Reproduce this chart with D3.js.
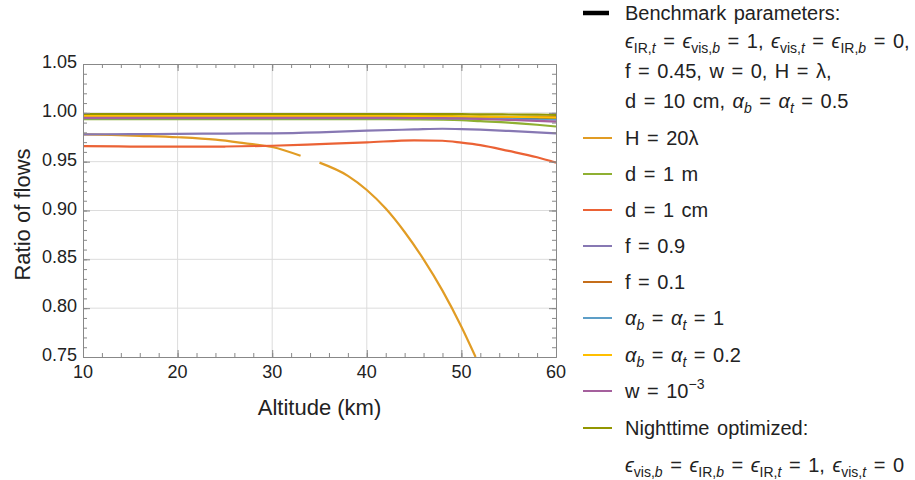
<!DOCTYPE html>
<html>
<head>
<meta charset="utf-8">
<script src="https://cdn.jsdelivr.net/npm/d3@7"></script>
<style>
  body { margin: 0; background: #fff; }
  text { font-family: "Liberation Sans", Arial, sans-serif; fill: #222; }
</style>
</head>
<body>
<div id="chart"></div>
<script>
// altitude grid (km) shared by most curves
var altGrid = [10, 15, 20, 25, 30, 35, 40, 45, 48, 50, 52, 55, 58, 60];

var benchmark  = [0.995, 0.995, 0.995, 0.995, 0.995, 0.995, 0.995, 0.995, 0.995, 0.995, 0.9948, 0.9945, 0.9942, 0.994];
var dOneM      = [0.9935, 0.9935, 0.9935, 0.9935, 0.9935, 0.9935, 0.9935, 0.9933, 0.993, 0.9925, 0.9915, 0.990, 0.9878, 0.986];
var dOneCm     = [0.966, 0.9655, 0.9653, 0.9655, 0.9663, 0.968, 0.9698, 0.9718, 0.9714, 0.9695, 0.967, 0.961, 0.9545, 0.949];
var fNine      = [0.978, 0.9782, 0.9785, 0.9788, 0.979, 0.980, 0.9817, 0.983, 0.9837, 0.9834, 0.9828, 0.9815, 0.980, 0.979];
var fOne       = [0.9952, 0.9952, 0.9952, 0.9952, 0.9952, 0.9952, 0.9953, 0.9953, 0.9954, 0.9955, 0.9956, 0.9957, 0.9958, 0.9958];
var alphaOne   = [0.9945, 0.9945, 0.9945, 0.9945, 0.9945, 0.9945, 0.9945, 0.9945, 0.9944, 0.9942, 0.994, 0.9937, 0.9933, 0.993];
var alphaTwo   = [0.9967, 0.9967, 0.9967, 0.9967, 0.9967, 0.9967, 0.9967, 0.9967, 0.9966, 0.9965, 0.9963, 0.996, 0.9955, 0.995];
var wMinus3    = [0.9948, 0.9948, 0.9948, 0.9948, 0.9948, 0.9948, 0.9948, 0.9947, 0.9945, 0.9942, 0.9937, 0.9928, 0.9918, 0.991];
var nightOpt   = [0.9988, 0.9988, 0.9988, 0.9988, 0.9988, 0.9988, 0.9988, 0.9988, 0.9987, 0.9986, 0.9985, 0.9983, 0.9981, 0.998];

// H = 20 lambda has its own grid, with a gap near 34 km
var hAlt   = [10, 13, 16, 20, 24, 27, 30, 33, 34, 35, 38, 40, 42, 44, 46, 48, 50, 51.5];
var hRatio = [0.978, 0.9775, 0.9765, 0.975, 0.9725, 0.969, 0.965, 0.956, null, 0.949, 0.9355, 0.921, 0.902, 0.878, 0.850, 0.818, 0.781, 0.75];

var xTicks = [10, 20, 30, 40, 50, 60];
var yTicks = [0.75, 0.80, 0.85, 0.90, 0.95, 1.00, 1.05];

var width = 915;
var height = 480;
var plot = { left: 83, right: 556, top: 64, bottom: 357 };

var x = d3.scaleLinear().domain([10, 60]).range([plot.left, plot.right]);
var y = d3.scaleLinear().domain([0.75, 1.05]).range([plot.bottom, plot.top]);

var svg = d3.select('#chart')
            .append('svg')
            .attr('width', width)
            .attr('height', height)
            .style('display', 'block')
            .style('background', '#fff');

svg.append('defs').append('clipPath')
   .attr('id', 'clip')
   .append('rect')
     .attr('x', plot.left)
     .attr('y', plot.top)
     .attr('width', plot.right - plot.left)
     .attr('height', plot.bottom - plot.top);

// grid lines at the major ticks
svg.append('g')
   .selectAll('line')
   .data(xTicks.slice(1, -1))
   .enter()
   .append('line')
     .attr('x1', function (d) { return x(d); })
     .attr('x2', function (d) { return x(d); })
     .attr('y1', plot.top)
     .attr('y2', plot.bottom)
     .attr('stroke', '#dcdcdc')
     .attr('stroke-width', 1);

svg.append('g')
   .selectAll('line')
   .data(yTicks.slice(1, -1))
   .enter()
   .append('line')
     .attr('y1', function (d) { return y(d); })
     .attr('y2', function (d) { return y(d); })
     .attr('x1', plot.left)
     .attr('x2', plot.right)
     .attr('stroke', '#dcdcdc')
     .attr('stroke-width', 1);

// series, in the order they are drawn (later on top)
var series = [
  { label: 'bench',  alt: altGrid, val: benchmark, color: '#000000' },
  { label: 'H',      alt: hAlt,    val: hRatio,    color: '#E19C24' },
  { label: 'd1m',    alt: altGrid, val: dOneM,     color: '#8FB032' },
  { label: 'd1cm',   alt: altGrid, val: dOneCm,    color: '#EB6235' },
  { label: 'f09',    alt: altGrid, val: fNine,     color: '#8778B3' },
  { label: 'f01',    alt: altGrid, val: fOne,      color: '#C56E1A' },
  { label: 'a1',     alt: altGrid, val: alphaOne,  color: '#5D9EC7' },
  { label: 'a02',    alt: altGrid, val: alphaTwo,  color: '#FFBF00' },
  { label: 'w',      alt: altGrid, val: wMinus3,   color: '#A5609D' },
  { label: 'night',  alt: altGrid, val: nightOpt,  color: '#929600' }
];

var line = d3.line()
             .defined(function (d) { return d[1] != null; })
             .x(function (d) { return x(d[0]); })
             .y(function (d) { return y(d[1]); })
             .curve(d3.curveMonotoneX);

svg.append('g')
   .attr('clip-path', 'url(#clip)')
   .selectAll('path')
   .data(series)
   .enter()
   .append('path')
     .attr('d', function (s) {
       return line(s.alt.map(function (a, i) { return [a, s.val[i]]; }));
     })
     .attr('fill', 'none')
     .attr('stroke', function (s) { return s.color; })
     .attr('stroke-width', 2.2)
     .attr('stroke-linejoin', 'round');

// frame with ticks on all four sides, pointing inwards
var frameColor = '#888';
var xMinor = d3.range(10, 60.01, 2);
var yMinor = d3.range(0.75, 1.0501, 0.01);

function frameAxis(axis, transform) {
  svg.append('g')
     .attr('transform', transform)
     .call(axis)
     .call(function (g) {
       g.selectAll('path, line').attr('stroke', frameColor);
       g.selectAll('text').remove();
     });
}

frameAxis(d3.axisBottom(x).tickValues(xMinor).tickSize(-4).tickSizeOuter(0), 'translate(0,' + plot.bottom + ')');
frameAxis(d3.axisTop(x).tickValues(xMinor).tickSize(-4).tickSizeOuter(0), 'translate(0,' + plot.top + ')');
frameAxis(d3.axisLeft(y).tickValues(yMinor).tickSize(-4).tickSizeOuter(0), 'translate(' + plot.left + ',0)');
frameAxis(d3.axisRight(y).tickValues(yMinor).tickSize(-4).tickSizeOuter(0), 'translate(' + plot.right + ',0)');
frameAxis(d3.axisBottom(x).tickValues(xTicks).tickSize(-7).tickSizeOuter(0), 'translate(0,' + plot.bottom + ')');
frameAxis(d3.axisTop(x).tickValues(xTicks).tickSize(-7).tickSizeOuter(0), 'translate(0,' + plot.top + ')');
frameAxis(d3.axisLeft(y).tickValues(yTicks).tickSize(-7).tickSizeOuter(0), 'translate(' + plot.left + ',0)');
frameAxis(d3.axisRight(y).tickValues(yTicks).tickSize(-7).tickSizeOuter(0), 'translate(' + plot.right + ',0)');

// tick labels
svg.append('g')
   .selectAll('text')
   .data(xTicks)
   .enter()
   .append('text')
     .attr('x', function (d) { return x(d); })
     .attr('y', plot.bottom + 21)
     .attr('text-anchor', 'middle')
     .attr('font-size', 18)
     .text(function (d) { return d; });

svg.append('g')
   .selectAll('text')
   .data(yTicks)
   .enter()
   .append('text')
     .attr('x', plot.left - 6)
     .attr('y', function (d) { return y(d) + 4; })
     .attr('text-anchor', 'end')
     .attr('font-size', 18)
     .text(function (d) { return d3.format('.2f')(d); });

// axis titles
svg.append('text')
   .attr('text-anchor', 'middle')
   .attr('transform', 'translate(30,' + ((plot.top + plot.bottom) / 2 + 4) + ')rotate(-90)')
   .attr('font-size', 22)
   .text('Ratio of flows');

svg.append('text')
   .attr('text-anchor', 'middle')
   .attr('x', (plot.left + plot.right) / 2)
   .attr('y', 415)
   .attr('font-size', 22)
   .text('Altitude (km)');

// legend: each text line is a list of [text, style] pieces
var legendRows = [
  { color: '#000000', thick: true, y: 13,  parts: [['Benchmark parameters:', '']] },
  { color: null,               y: 41,  parts: [['ϵ', 'i'], ['IR,', 'sub'], ['t', 'isub'], [' = ', ''], ['ϵ', 'i'], ['vis,', 'sub'], ['b', 'isub'], [' = 1, ', ''], ['ϵ', 'i'], ['vis,', 'sub'], ['t', 'isub'], [' = ', ''], ['ϵ', 'i'], ['IR,', 'sub'], ['b', 'isub'], [' = 0,', '']] },
  { color: null,               y: 71,  parts: [['f = 0.45, w = 0, H = λ,', '']] },
  { color: null,               y: 101, parts: [['d = 10 cm, ', ''], ['α', 'i'], ['b', 'isub'], [' = ', ''], ['α', 'i'], ['t', 'isub'], [' = 0.5', '']] },
  { color: '#E19C24',          y: 138, parts: [['H = 20λ', '']] },
  { color: '#8FB032',          y: 174, parts: [['d = 1 m', '']] },
  { color: '#EB6235',          y: 210, parts: [['d = 1 cm', '']] },
  { color: '#8778B3',          y: 246, parts: [['f = 0.9', '']] },
  { color: '#C56E1A',          y: 282, parts: [['f = 0.1', '']] },
  { color: '#5D9EC7',          y: 318, parts: [['α', 'i'], ['b', 'isub'], [' = ', ''], ['α', 'i'], ['t', 'isub'], [' = 1', '']] },
  { color: '#FFBF00',          y: 355, parts: [['α', 'i'], ['b', 'isub'], [' = ', ''], ['α', 'i'], ['t', 'isub'], [' = 0.2', '']] },
  { color: '#A5609D',          y: 391, parts: [['w = 10', ''], ['−3', 'sup']] },
  { color: '#929600',          y: 428, parts: [['Nighttime optimized:', '']] },
  { color: null,               y: 465, parts: [['ϵ', 'i'], ['vis,', 'sub'], ['b', 'isub'], [' = ', ''], ['ϵ', 'i'], ['IR,', 'sub'], ['b', 'isub'], [' = ', ''], ['ϵ', 'i'], ['IR,', 'sub'], ['t', 'isub'], [' = 1, ', ''], ['ϵ', 'i'], ['vis,', 'sub'], ['t', 'isub'], [' = 0', '']] }
];

var legend = svg.append('g');

legendRows.forEach(function (row) {
  if (row.color) {
    legend.append('line')
          .attr('x1', 583)
          .attr('x2', row.thick ? 609 : 612)
          .attr('y1', row.y)
          .attr('y2', row.y)
          .attr('stroke', row.color)
          .attr('stroke-width', row.thick ? 4.5 : 2);
  }
  var t = legend.append('text')
                .attr('x', 625)
                .attr('y', row.y + 7)
                .attr('font-size', 20)
                .style('word-spacing', '2px');
  var shift = 0;
  row.parts.forEach(function (p) {
    var ts = t.append('tspan').text(p[0]);
    var target = 0;
    if (p[1] === 'sub' || p[1] === 'isub') { target = 5; ts.attr('font-size', 14); }
    if (p[1] === 'sup') { target = -9; ts.attr('font-size', 14); }
    if (p[1] === 'i' || p[1] === 'isub') { ts.attr('font-style', 'italic'); }
    if (target !== shift) { ts.attr('dy', target - shift); shift = target; }
  });
});
</script>
</body>
</html>
